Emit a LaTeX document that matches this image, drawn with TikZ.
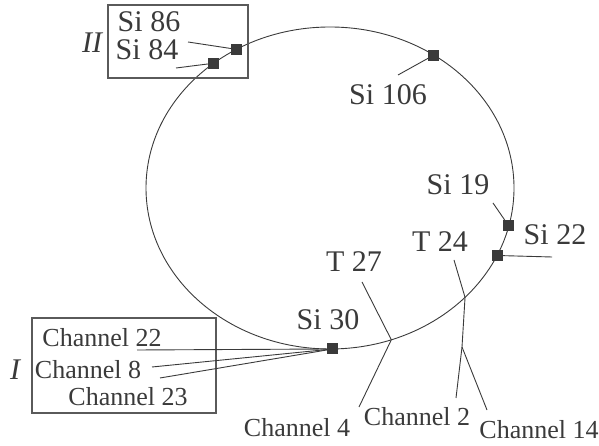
\documentclass[tikz,border=0pt]{standalone}
\usepackage{fontspec}
\setmainfont{Liberation Serif}
\usetikzlibrary{shapes.geometric}
\definecolor{ink}{HTML}{3A3A3A}
\definecolor{frame}{HTML}{5A5A5A}
\begin{document}
\begin{tikzpicture}[x=1pt,y=1pt,
  silab/.style={inner sep=0pt, text=ink, font=\fontsize{30}{30}\selectfont},
  chlab/.style={inner sep=0pt, text=ink, font=\fontsize{26}{26}\selectfont},
  grouplab/.style={inner sep=0pt, text=ink, font=\fontsize{30}{30}\selectfont\itshape},
  marker/.style={fill=ink, draw=none, minimum size=11pt, inner sep=0pt, outer sep=0pt},
  conn/.style={draw=ink, line width=0.9pt},
  groupbox/.style={draw=frame, line width=1.1pt}]
\useasboundingbox (0,0) rectangle (599,446);
% ring
\node[ellipse, draw=ink, line width=0.9pt, minimum width=368pt, minimum height=322pt, inner sep=0pt, outer sep=0pt] (E) at (330,258) {};
% markers
\node[marker] (m86) at (E.124.2) {};
\node[marker] (m84) at (E.133.8) {};
\node[marker] (m106) at (E.52.7) {};
\node[marker] (m19) at (E.-12.7) {};
\node[marker] (m22) at (E.-22.6) {};
\node[marker] (m30) at (E.-89.3) {};
\coordinate (x27) at (E.-68.2);
\coordinate (x24) at (E.-39.3);
% boxes
\draw[groupbox] (108,441) rectangle (248,368);
\draw[groupbox] (32,128) rectangle (216,33);
% labels
\node[silab] (l86) at (149,424) {Si 86};
\node[silab] (l84) at (147,396) {Si 84};
\node[grouplab] (lII) at (92,403) {II};
\node[silab] (l106) at (388,351) {Si 106};
\node[silab] (l19) at (458,261) {Si 19};
\node[silab] (l22) at (555,211) {Si 22};
\node[silab] (l30) at (328,126) {Si 30};
\node[silab] (lT27) at (354,184) {T 27};
\node[silab] (lT24) at (440,204) {T 24};
\node[chlab] (c22) at (102,108) {Channel 22};
\node[chlab] (c8) at (88,76) {Channel 8};
\node[chlab] (c23) at (128,49) {Channel 23};
\node[grouplab] (lI) at (15,76) {I};
\node[chlab] (c4) at (297,18) {Channel 4};
\node[chlab] (c2) at (417,29) {Channel 2};
\node[chlab] (c14) at (539,16) {Channel 14};
% free ends
\coordinate (e86) at (188,404);
\coordinate (e84) at (176,378);
\coordinate (e106) at (398,371);
\coordinate (e19) at (493,243);
\coordinate (e22) at (552,189);
\coordinate (e22c) at (137,96);
\coordinate (e8c) at (152,79);
\coordinate (e23c) at (160,68);
\coordinate (e27) at (362,164);
\coordinate (e4) at (359,39);
\coordinate (e24) at (454,186);
\coordinate (j24) at (462,99);
\coordinate (e2) at (456,48);
\coordinate (e14) at (487,36);
% connectors
\draw[conn] (e86) -- (m86.center);
\draw[conn] (e84) -- (m84.center);
\draw[conn] (e106) -- (m106.center);
\draw[conn] (e19) -- (m19.center);
\draw[conn] (m22.center) -- (e22);
\draw[conn] (e22c) -- (m30.center);
\draw[conn] (e8c) -- (m30.center);
\draw[conn] (e23c) -- (m30.center);
\draw[conn] (e27) -- (x27) -- (e4);
\draw[conn] (e24) -- (x24) -- (j24) -- (e2);
\draw[conn] (j24) -- (e14);
% redraw markers on top
\foreach \m in {m86,m84,m106,m19,m22,m30} \fill[ink] (\m.south west) rectangle (\m.north east);
\end{tikzpicture}
\end{document}
